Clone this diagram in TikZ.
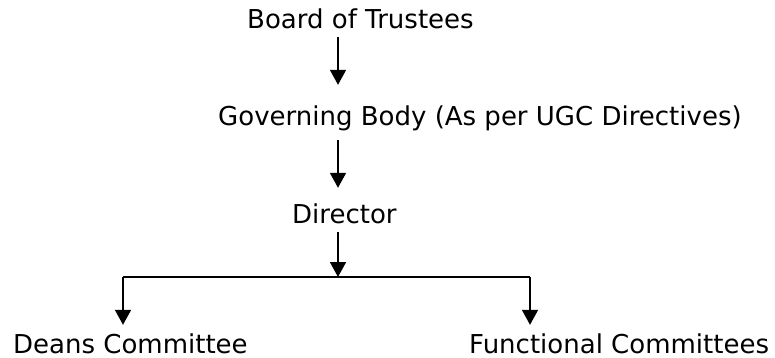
\documentclass[tikz,border=0pt]{standalone}
\usepackage{fontspec}
\setmainfont{DejaVu Sans}
\usetikzlibrary{arrows.meta}

\begin{document}
\begin{tikzpicture}[x=1pt, y=-1pt,
    label/.style={anchor=base west, inner sep=0pt, text height=18pt, text depth=6pt,
      font=\fontsize{26}{30}\selectfont},
    link/.style={line width=1.8pt, line cap=butt},
    arr/.style={link, -{Triangle[width=16pt, length=15pt]}}]
  \useasboundingbox (0,0) rectangle (775,358);

  \node[label] (board) at (247, 29) {Board of Trustees};
  \node[label] (gov) at (218, 126) {Governing Body (As per UGC Directives)};
  \node[label] (dir) at (292, 223) {Director};
  \node[label] (deans) at (13, 353) {Deans Committee};
  \node[label] (func) at (469, 353) {Functional Committees};

  % spine of the chart and its branch point
  \coordinate (spine) at (338, 0);
  \coordinate (split) at (338, 277);
  \coordinate (lbranch) at (123, 277);
  \coordinate (rbranch) at (530, 277);

  \draw[arr, shorten <=2pt, shorten >=23pt] (board.south -| spine) -- (gov.north -| spine);
  \draw[arr, shorten <=8pt, shorten >=17pt] (gov.south -| spine) -- (dir.north -| spine);
  \draw[arr, shorten <=3pt] (dir.south -| spine) -- (split);
  \draw[link] (lbranch) -- (rbranch);
  \draw[arr, shorten >=10pt] (lbranch) -- (lbranch |- deans.north);
  \draw[arr, shorten >=10pt] (rbranch) -- (rbranch |- func.north);
\end{tikzpicture}
\end{document}
